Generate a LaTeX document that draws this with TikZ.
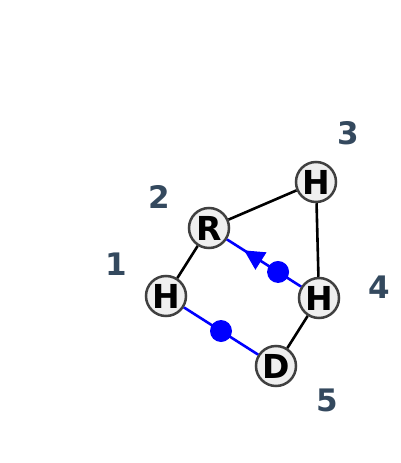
\documentclass[tikz,border=0pt]{standalone}
\usepackage{fontspec}
\setmainfont{DejaVu Sans}
\usetikzlibrary{arrows.meta,decorations.markings}
\definecolor{slate}{HTML}{34495E}
\definecolor{ringgray}{HTML}{404040}
\definecolor{fillgray}{HTML}{EFEFEF}
\begin{document}
\begin{tikzpicture}[x=1pt,y=-1pt,
  atom/.style={circle,draw=ringgray,fill=fillgray,line width=2.5pt,minimum size=40pt,inner sep=0pt,font=\fontsize{33}{33}\selectfont\bfseries},
  num/.style={text=slate,font=\fontsize{31}{31}\selectfont\bfseries},
  bond/.style={line width=2.6pt},
  link/.style={bond,blue},
  dot/.style={circle,fill=blue,minimum size=22pt,inner sep=0pt}]
\useasboundingbox (0,0) rectangle (400,463);

\node[atom] (h1) at (166,296) {H};
\node[atom] (r2) at (209,228) {R};
\node[atom] (h3) at (316,182) {H};
\node[atom] (h4) at (319,298) {H};
\node[atom] (d5) at (276,366) {D};

\node[num] (l1) at (116,264) {1};
\node[num] (l2) at (159,197) {2};
\node[num] (l3) at (348,133) {3};
\node[num] (l4) at (379,287) {4};
\node[num] (l5) at (327,400) {5};

\draw[bond] (h1)--(r2);
\draw[bond] (r2)--(h3);
\draw[bond] (h3)--(h4);
\draw[bond] (h4)--(d5);
\draw[link] (h1)-- node[dot]{} (d5);
\draw[link,postaction={decorate},
  decoration={markings,mark=at position 0.77 with {\arrow{Triangle[length=20pt,width=20pt]}}}]
  (h4)-- node[dot,pos=0.31]{} (r2);
\end{tikzpicture}
\end{document}
